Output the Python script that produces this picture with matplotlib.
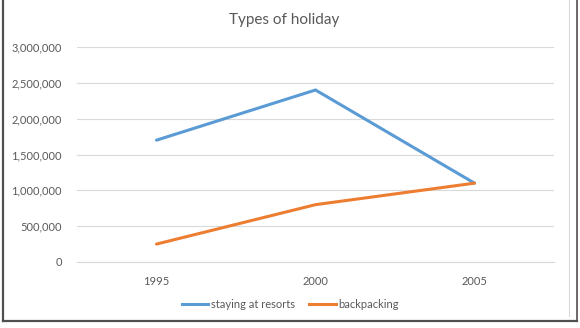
import matplotlib
matplotlib.use("Agg")
import matplotlib.pyplot as plt
from matplotlib.lines import Line2D
from matplotlib.ticker import FuncFormatter

plt.rcParams['font.family'] = ['Lato', 'DejaVu Sans']

# Data
years = ["1995", "2000", "2005"]
resorts = [1700000, 2400000, 1100000]
backpacking = [250000, 800000, 1100000]
series_names = ["staying at resorts", "backpacking"]
y_ticks = [0, 500000, 1000000, 1500000, 2000000, 2500000, 3000000]

blue = "#5b9bd5"
orange = "#ed7d31"
text_gray = "#595959"
grid_gray = "#d9d9d9"

W, H = 580, 328
fig = plt.figure(figsize=(W / 100, H / 100), dpi=100)

def px(x0, y0, x1, y1):
    return [x0 / W, 1 - y1 / H, (x1 - x0) / W, (y1 - y0) / H]

ax = fig.add_axes(px(77, 47, 554, 262))
x = list(range(len(years)))
ax.plot(x, resorts, color=blue, lw=2.2, solid_capstyle="round", solid_joinstyle="miter", zorder=3)
ax.plot(x, backpacking, color=orange, lw=2.2, solid_capstyle="round", solid_joinstyle="miter", zorder=3)

ax.set_xlim(-0.5, len(years) - 0.5)
ax.set_ylim(0, 3000000)
ax.set_xticks(x)
ax.set_xticklabels(years)
ax.set_yticks(y_ticks)
ax.yaxis.set_major_formatter(FuncFormatter(lambda v, p: f"{int(v):,}"))
ax.grid(axis="y", color=grid_gray, lw=0.8)
ax.set_axisbelow(True)
for s in ["top", "right", "left"]:
    ax.spines[s].set_visible(False)
ax.spines["bottom"].set_color(grid_gray)
ax.spines["bottom"].set_linewidth(0.8)
ax.tick_params(axis="both", length=0, colors=text_gray, labelsize=8)
ax.tick_params(axis="y", pad=11)
ax.tick_params(axis="x", pad=10)

fig.text(284 / W, 1 - 20 / H, "Types of holiday", ha="center", va="center",
         fontsize=11, color=text_gray)

handles = [Line2D([], [], color=blue, lw=2.2), Line2D([], [], color=orange, lw=2.2)]
fig.legend(handles, series_names, loc="center", bbox_to_anchor=(290 / W, 1 - 304 / H),
           ncol=2, frameon=False, fontsize=8, labelcolor=text_gray,
           handlelength=2.4, handletextpad=0.2, columnspacing=1.3)

# Chart area frame
fig.add_artist(Line2D([3 / W, 3 / W], [1 - 321 / H, 1], color="#505050", lw=1.6))
fig.add_artist(Line2D([3 / W, 577 / W], [1 - 321 / H, 1 - 321 / H], color="#505050", lw=1.6))
fig.add_artist(Line2D([577 / W, 577 / W], [1 - 321 / H, 1], color="#505050", lw=1.2))
fig.add_artist(Line2D([569 / W, 569 / W], [1 - 316 / H, 1], color="#d9d9d9", lw=0.8))

fig.savefig("out.png", dpi=100)
